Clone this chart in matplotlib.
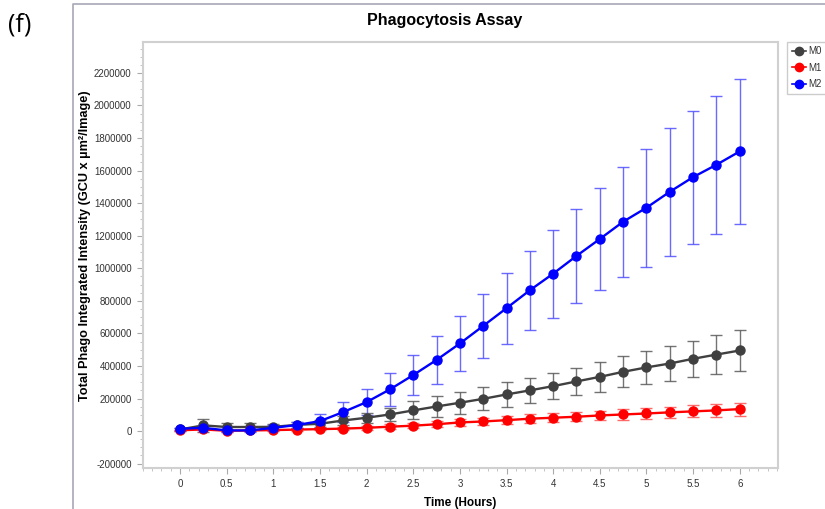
import matplotlib
matplotlib.use("Agg")
import matplotlib.pyplot as plt
from matplotlib.lines import Line2D
from matplotlib.ticker import MultipleLocator
import numpy as np

plt.rcParams['font.family'] = ['Liberation Sans', 'DejaVu Sans']

time_h = [0, 0.25, 0.5, 0.75, 1.0, 1.25, 1.5, 1.75, 2.0, 2.25, 2.5, 2.75, 3.0,
          3.25, 3.5, 3.75, 4.0, 4.25, 4.5, 4.75, 5.0, 5.25, 5.5, 5.75, 6.0]

m0 = [10000, 35000, 25000, 25000, 26000, 38000, 45000, 65000, 82000, 102000,
      127000, 151000, 174000, 198000, 225000, 250000, 276000, 305000, 333000,
      364000, 391000, 415000, 444000, 470000, 495000]
m0_err = [10000, 40000, 25000, 25000, 20000, 20000, 20000, 25000, 30000, 40000,
          55000, 65000, 68000, 70000, 75000, 78000, 80000, 85000, 90000, 95000,
          100000, 105000, 110000, 120000, 125000]

m1 = [5000, 10000, 2000, 4000, 6000, 9000, 12000, 15000, 20000, 27000, 33000,
      42000, 53000, 59000, 67000, 76000, 82000, 88000, 96000, 102000, 108000,
      115000, 121000, 127000, 135000]
m1_err = [3000, 5000, 5000, 5000, 5000, 7000, 8000, 10000, 12000, 14000, 16000,
          18000, 20000, 22000, 24000, 26000, 27000, 29000, 30000, 32000, 34000,
          35000, 37000, 38000, 40000]

m2 = [14000, 20000, 4000, 4000, 20000, 37000, 61000, 117000, 178000, 256000,
      344000, 437000, 538000, 646000, 755000, 865000, 967000, 1076000, 1180000,
      1286000, 1372000, 1470000, 1560000, 1636000, 1718000]
m2_err = [5000, 10000, 10000, 10000, 15000, 20000, 45000, 60000, 82000, 102000,
          125000, 145000, 170000, 195000, 218000, 243000, 270000, 290000, 315000,
          337000, 362000, 392000, 408000, 425000, 445000]

series = [("M0", m0, m0_err, "#404040", "#5a5a5a"),
          ("M1", m1, m1_err, "#ff0000", "#ff5050"),
          ("M2", m2, m2_err, "#0000ff", "#5050ff")]

W, H = 825, 509
fig = plt.figure(figsize=(W / 100, H / 100), dpi=100)
ax = fig.add_axes([142.7 / W, 1 - 467.7 / H, (778 - 142.7) / W, (467.7 - 42) / H])

handles = []
for name, vals, err, col, ecol in series:
    ax.errorbar(time_h, vals, yerr=err, fmt='none', ecolor=ecol, elinewidth=1.0,
                capsize=4, capthick=1.0, alpha=0.85, zorder=2)
    h, = ax.plot(time_h, vals, '-o', color=col, lw=1.7, markersize=6.5, zorder=3,
                 label=name)
    handles.append(h)

ax.set_xlim(-0.4, 6.41)
ax.set_ylim(-225000, 2390000)
ax.xaxis.set_minor_locator(MultipleLocator(0.1))
ax.yaxis.set_minor_locator(MultipleLocator(50000))
ax.set_xticks(np.arange(0, 6.01, 0.5))
ax.set_xticklabels(["0", "0.5", "1", "1.5", "2", "2.5", "3", "3.5", "4", "4.5",
                    "5", "5.5", "6"])
ax.set_yticks(np.arange(-200000, 2200001, 200000))
ax.set_yticklabels([str(int(v)) for v in np.arange(-200000, 2200001, 200000)])
ax.tick_params(axis='both', which='major', labelsize=7, length=4, color='#aaaaaa',
               labelcolor='#333333', pad=4)
ax.tick_params(axis='both', which='minor', length=2, color='#bbbbbb')
for sp in ax.spines.values():
    sp.set_color('#d0d0d0')
    sp.set_linewidth(1.5)

ax.set_xlabel("Time (Hours)", fontsize=8.5, fontweight='bold', labelpad=6)
fig.text(85 / W, 1 - 245.5 / H, "Total Phago Integrated Intensity (GCU x µm²/Image)",
         fontsize=9.2, fontweight='bold', rotation=90, ha='center', va='center')
fig.text(445 / W, 1 - 20 / H, "Phagocytosis Assay", fontsize=11.5,
         fontweight='bold', ha='center', va='center')
fig.text(8 / W, 1 - 25 / H, "(f)", fontsize=18, ha='left', va='center',
         family=['Open Sans', 'DejaVu Sans'])

# outer frame (top and left edges)
fig.add_artist(Line2D([73 / W, 73 / W, 1.0], [0.0, 1 - 4 / H, 1 - 4 / H],
                      transform=fig.transFigure, color='#a8a8b8', lw=1.2))

leg = fig.legend(handles=handles, loc='upper left',
                 bbox_to_anchor=(787 / W, 1 - 41.5 / H), fontsize=7,
                 frameon=True, fancybox=False, handlelength=1.45,
                 handletextpad=0.2, borderpad=0.5, labelspacing=0.65,
                 borderaxespad=0)
leg.get_frame().set_edgecolor('#c0c0c0')
leg.get_frame().set_linewidth(1.0)
for h in leg.legend_handles:
    h.set_markersize(6)
    h.set_linewidth(1.2)
for t in leg.get_texts():
    t.set_color('#333333')

fig.savefig("out.png", dpi=100)
